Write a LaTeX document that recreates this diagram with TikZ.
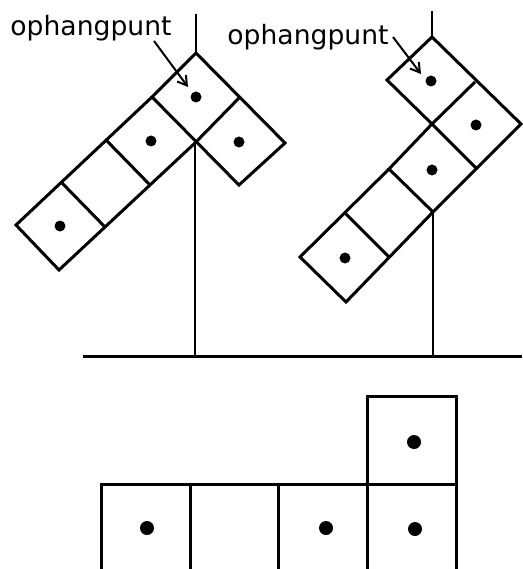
\documentclass[tikz,border=0pt]{standalone}
\usepackage{fontspec}
\setmainfont{DejaVu Sans}
\usetikzlibrary{arrows.meta}
\begin{document}
\begin{tikzpicture}[x=1pt, y=-1pt]
\tikzset{
    lijn/.style={-, line width=3pt, black, line join=miter},
    dun/.style={-, line width=2.6pt, black},
    punt/.style={circle, fill=black, inner sep=0pt, minimum size=11pt},
    puntgroot/.style={circle, fill=black, inner sep=0pt, minimum size=14pt},
    naam/.style={font=\fontsize{26.6}{30}\selectfont, inner sep=0pt, anchor=base},
    pijl/.style={-{Straight Barb[length=9pt,width=11pt]}, line width=2pt}
}
\useasboundingbox (0,0) rectangle (522,569);
% Linker stand
\coordinate (l0) at (196,53);
\coordinate (l1) at (239,98);
\coordinate (l2) at (285,143);
\coordinate (l3) at (239,185);
\coordinate (l4) at (195,143);
\coordinate (l5) at (152,97);
\coordinate (l6) at (107,141);
\coordinate (l7) at (149,184);
\coordinate (l8) at (62,183);
\coordinate (l9) at (105,227);
\coordinate (l10) at (16,225);
\coordinate (l11) at (59,270);
\coordinate (ltop) at (196,14);
\coordinate (lvoet) at (195,356);
\draw[lijn] (l0) -- (l2) -- (l3) -- (l5) -- cycle;
\draw[lijn] (l1) -- (l4);
\draw[lijn] (l5) -- (l10) -- (l11) -- (l4);
\draw[lijn] (l6) -- (l7);
\draw[lijn] (l8) -- (l9);
\draw[dun] (ltop) -- (l0);
\draw[dun] (l4) -- (lvoet);
\node[punt] (dl1) at (196,97)  {};
\node[punt] (dl2) at (151,141) {};
\node[punt] (dl3) at (239,142) {};
\node[punt] (dl4) at (60,226)  {};
% Rechter stand
\coordinate (r0) at (432,37);
\coordinate (r1) at (387,80);
\coordinate (r2) at (432,124);
\coordinate (r3) at (475,82);
\coordinate (r4) at (521,124);
\coordinate (r5) at (476,168);
\coordinate (r6) at (433,212);
\coordinate (r7) at (389,169);
\coordinate (r8) at (345,213);
\coordinate (r9) at (389,257);
\coordinate (r10) at (300,257);
\coordinate (r11) at (346,302);
\coordinate (rtop) at (432,11);
\coordinate (rvoet) at (433,356);
\draw[lijn] (r0) -- (r4) -- (r6) -- (r7) -- (r2) -- (r1) -- cycle;
\draw[lijn] (r3) -- (r2) -- (r5);
\draw[lijn] (r7) -- (r10) -- (r11) -- (r6);
\draw[lijn] (r8) -- (r9);
\draw[dun] (rtop) -- (r0);
\draw[dun] (r6) -- (rvoet);
\node[punt] (dr1) at (431,81)  {};
\node[punt] (dr2) at (476,125) {};
\node[punt] (dr3) at (432,170) {};
\node[punt] (dr4) at (345,258) {};
% Grond
\coordinate (g0) at (83,356);
\coordinate (g1) at (522,356);
\draw[lijn] (g0) -- (g1);
% Rooster onder
\coordinate (b0) at (101,569);
\coordinate (b1) at (190,569);
\coordinate (b2) at (278,569);
\coordinate (b3) at (367,569);
\coordinate (b4) at (456,569);
\draw[lijn] (b0) -- (101,484) -- (456,484);
\draw[lijn] (b1) -- (190,484);
\draw[lijn] (b2) -- (278,484);
\draw[lijn] (b3) -- (367,396) -- (456,396) -- (b4);
\node[puntgroot] (db1) at (147,528) {};
\node[puntgroot] (db2) at (326,528) {};
\node[puntgroot] (db3) at (415,529) {};
\node[puntgroot] (db4) at (414,442) {};
% Labels met pijlen
\node[naam] (ophang1) at (91,36)  {ophangpunt};
\node[naam] (ophang2) at (308,45) {ophangpunt};
\coordinate (staart1) at (154,41);
\coordinate (staart2) at (393,37);
\coordinate (tip1) at (188,87);
\coordinate (tip2) at (421,74);
\draw[pijl] (staart1) -- (tip1);
\draw[pijl] (staart2) -- (tip2);
\end{tikzpicture}
\end{document}
